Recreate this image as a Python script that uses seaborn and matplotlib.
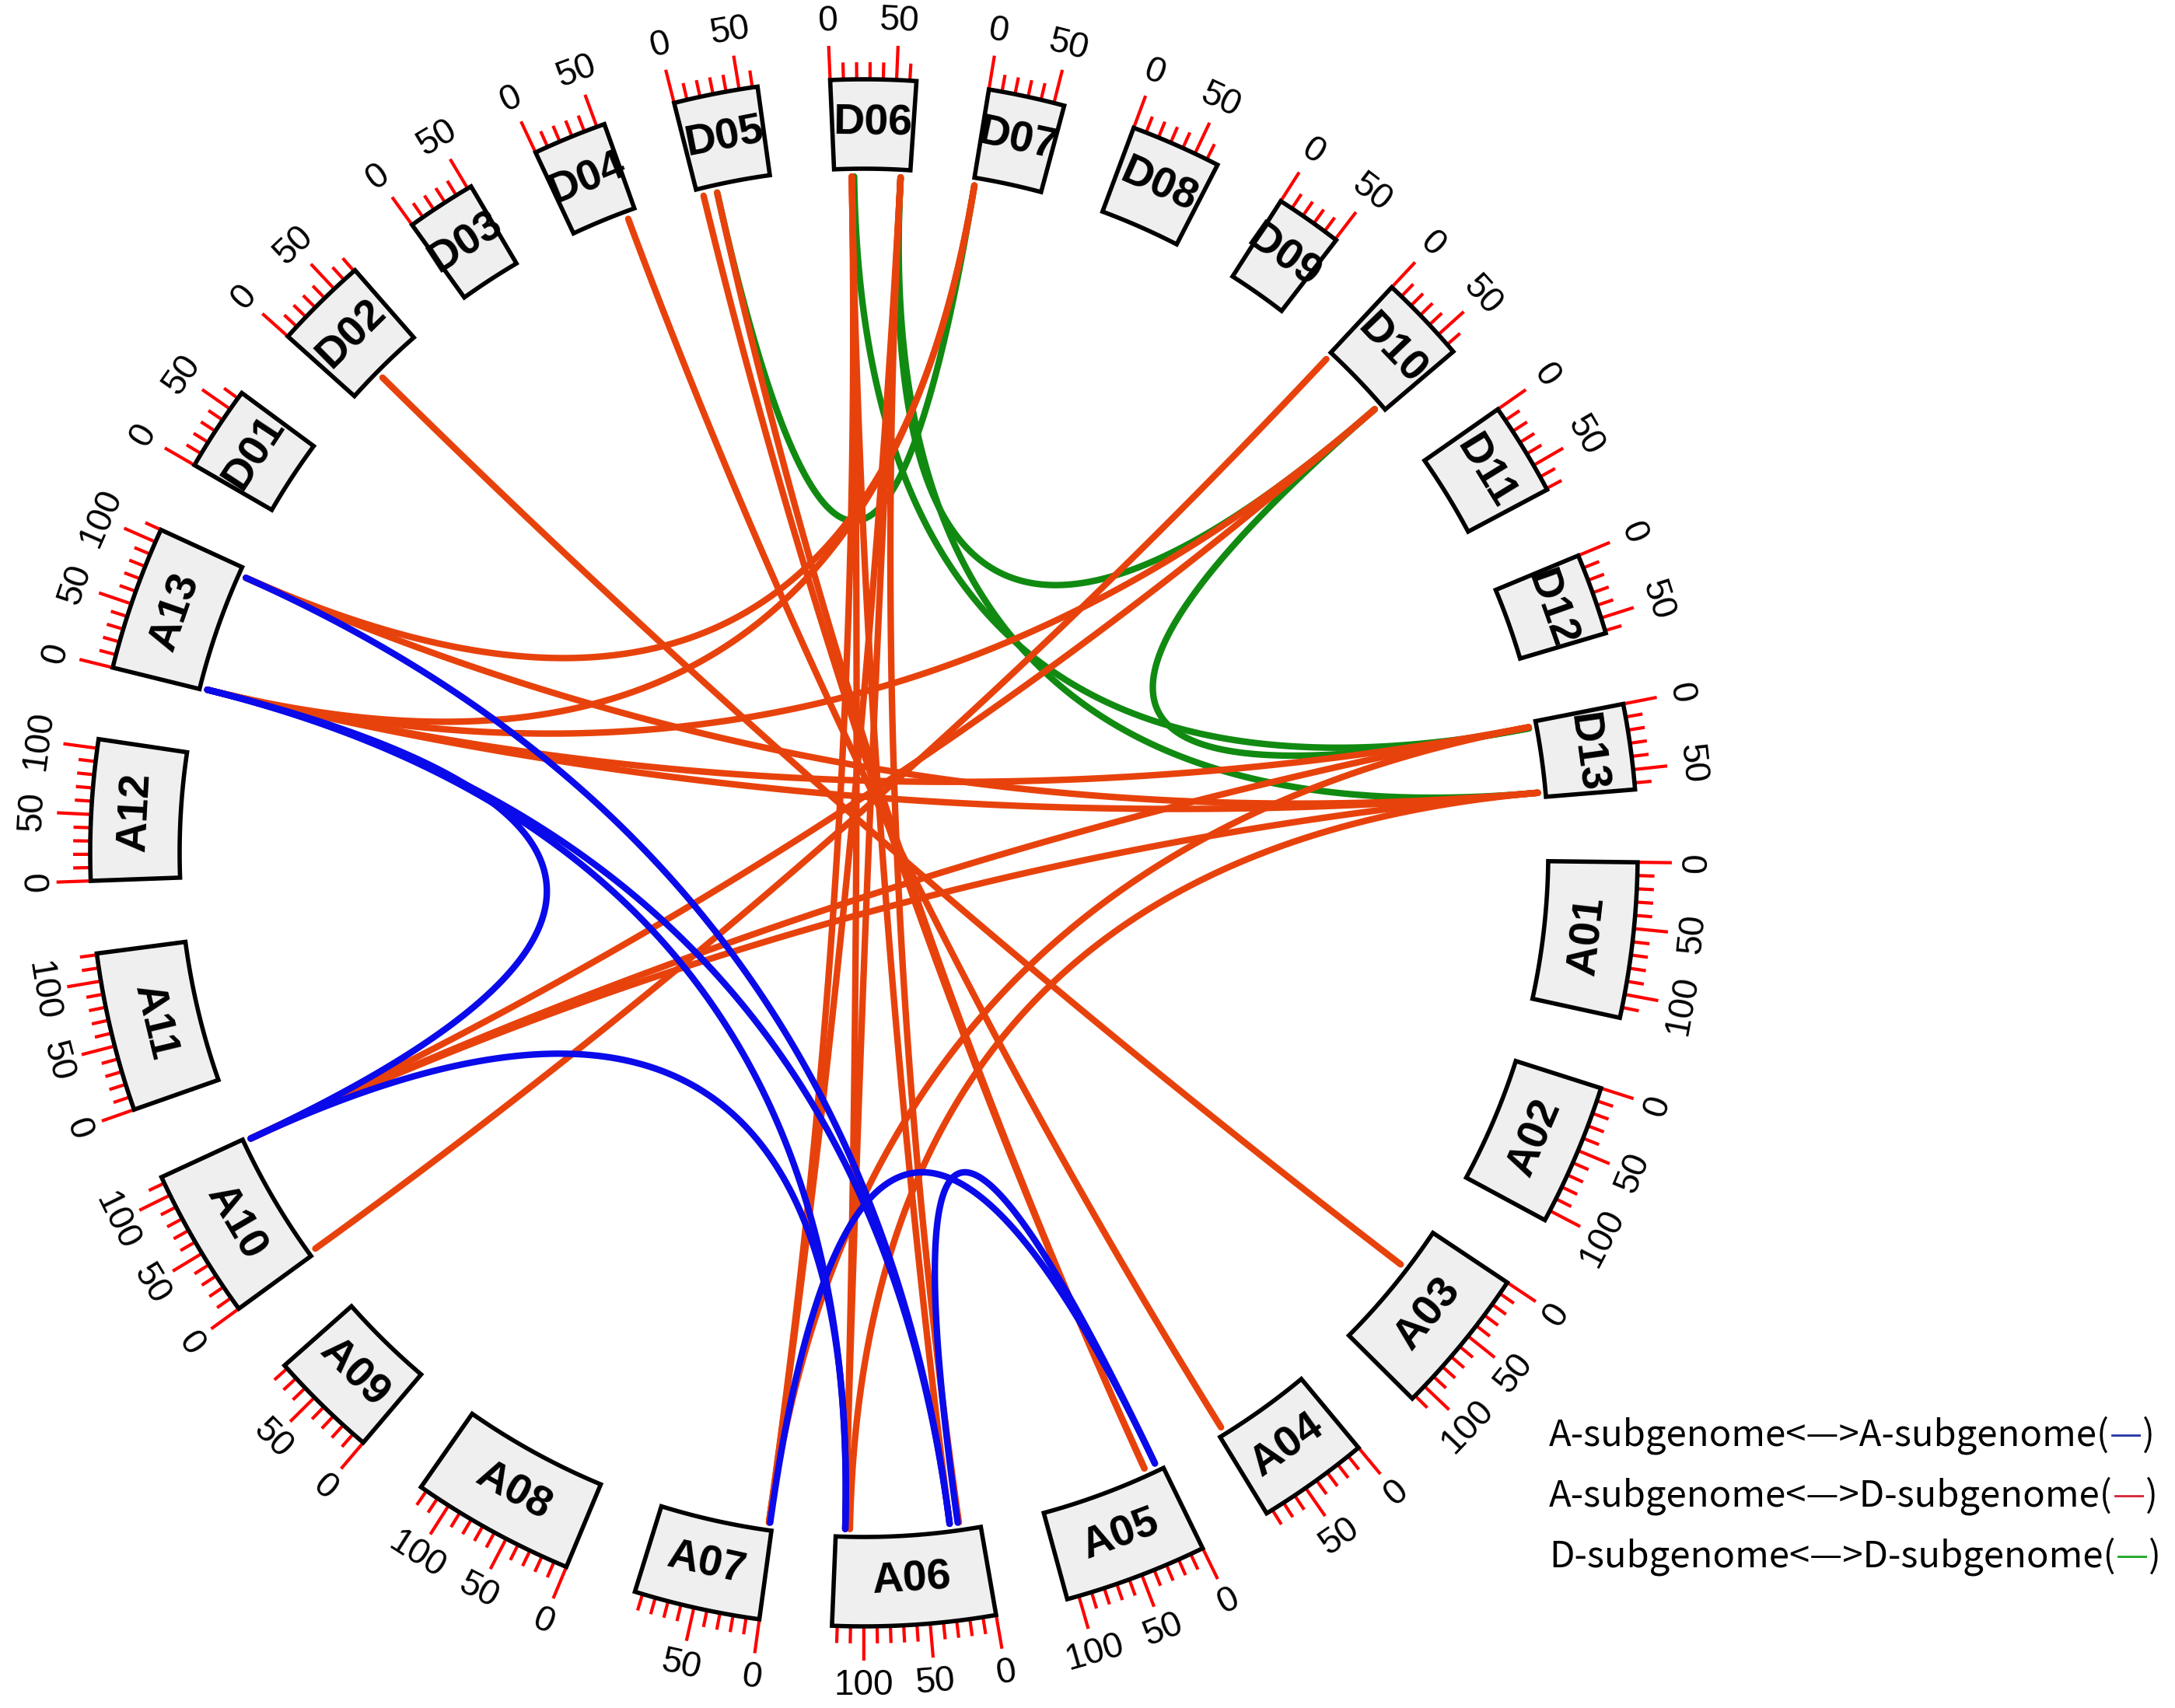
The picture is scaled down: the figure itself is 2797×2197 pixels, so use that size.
import numpy as np
import pandas as pd
import matplotlib.pyplot as plt
import seaborn as sns
from matplotlib.patches import Polygon

# chromosomes (Mb)
chrom_names = ["A01", "A02", "A03", "A04", "A05", "A06", "A07", "A08", "A09", "A10", "A11", "A12", "A13",
               "D01", "D02", "D03", "D04", "D05", "D06", "D07", "D08", "D09", "D10", "D11", "D12", "D13"]
chrom_len = [118, 108, 113, 85, 109, 124, 96, 125, 83, 115, 121, 107, 110,
             65, 71, 53, 56, 64, 65, 58, 69, 51, 67, 71, 62, 65]

# links: (chrom1, pos1, chrom2, pos2) in Mb
aa_links = [("A13", 1, "A10", 113), ("A10", 113, "A06", 116), ("A13", 1, "A06", 116),
            ("A13", 1, "A06", 26), ("A13", 103, "A06", 26), ("A07", 2, "A05", 5),
            ("A06", 19, "A05", 5)]
ad_links = [("A03", 38, "D02", 28), ("A04", 80, "D04", 48), ("A05", 15, "D05", 5),
            ("A05", 15, "D05", 17), ("A06", 116, "D06", 15), ("A06", 116, "D06", 57),
            ("A07", 3, "D06", 15), ("A07", 3, "D06", 57), ("A06", 26, "D06", 15),
            ("A06", 18, "D06", 57), ("A13", 103, "D07", 1), ("A13", 1, "D07", 1),
            ("A13", 1, "D10", 61), ("A10", 113, "D10", 61), ("A10", 3, "D10", 1),
            ("A13", 1, "D13", 4), ("A13", 1, "D13", 61), ("A13", 103, "D13", 61),
            ("A10", 113, "D13", 4), ("A10", 113, "D13", 61), ("A06", 112, "D13", 61),
            ("A07", 3, "D13", 4)]
dd_links = [("D10", 61, "D13", 5), ("D06", 17, "D13", 5), ("D06", 57, "D13", 61),
            ("D06", 57, "D10", 61), ("D05", 17, "D07", 1)]

legend_labels = ["A-subgenome<—>A-subgenome(", "A-subgenome<—>D-subgenome(",
                 "D-subgenome<—>D-subgenome("]
legend_colors = ["#2a3aa6", "#d42a3c", "#22a82a"]
link_colors = {"DD": "#118a11", "AD": "#e8420c", "AA": "#0a0aea"}

# layout (pixels, y downwards)
W, H = 2797, 2197
CX, CY = 1111, 1097
R_IN, R_OUT, R_LINK = 880, 995, 870
GAP = 5.4
START = 90.7
deg_per_mb = (360 - GAP * len(chrom_names)) / sum(chrom_len)

starts = {}
a = START
for name, L in zip(chrom_names, chrom_len):
    starts[name] = a
    a += L * deg_per_mb + GAP


def bearing(chrom, pos):
    return starts[chrom] + pos * deg_per_mb


def xy(phi, r):
    rad = np.radians(phi)
    return CX + r * np.sin(rad), CY - r * np.cos(rad)


def text_rot(phi):
    p = phi % 360
    return -p if (p < 90 or p > 270) else 180 - p


sns.set_theme(style="white")
plt.rcParams['font.family'] = ['Liberation Sans', 'DejaVu Sans']
plt.rcParams['text.color'] = 'black'

fig = plt.figure(figsize=(W / 100, H / 100), dpi=100)
ax = fig.add_axes([0, 0, 1, 1])

# chromosome boxes, ticks and labels
for name, L in zip(chrom_names, chrom_len):
    p0 = bearing(name, 0)
    p1 = bearing(name, L)
    arc = np.linspace(p0, p1, 40)
    outer = [xy(p, R_OUT) for p in arc]
    inner = [xy(p, R_IN) for p in arc[::-1]]
    ax.add_patch(Polygon(outer + inner, closed=True, facecolor="#efefef",
                         edgecolor="black", linewidth=4, zorder=3))
    mid = (p0 + p1) / 2
    tx, ty = xy(mid, (R_IN + R_OUT) / 2)
    ax.text(tx, ty, name, fontsize=40, fontweight="bold", color="black", rotation=text_rot(mid),
            rotation_mode="anchor", ha="center", va="center", zorder=4)
    for v in range(0, L + 1, 10):
        p = bearing(name, v)
        tl = 44 if v % 50 == 0 else 22
        x0, y0 = xy(p, R_OUT)
        x1, y1 = xy(p, R_OUT + tl)
        ax.plot([x0, x1], [y0, y1], color="#ff0000", lw=3, solid_capstyle="butt", zorder=2)
        if v % 50 == 0:
            lx, ly = xy(p, R_OUT + 76)
            ax.text(lx, ly, str(v), fontsize=33, color="black", rotation=text_rot(p),
                    rotation_mode="anchor", ha="center", va="center")

# links as quadratic bezier curves through the centre
rows = []
t = np.linspace(0, 1, 120)
lid = 0
for kind, links in (("DD", dd_links), ("AD", ad_links), ("AA", aa_links)):
    for c1, s1, c2, s2 in links:
        x0, y0 = xy(bearing(c1, s1), R_LINK)
        x2, y2 = xy(bearing(c2, s2), R_LINK)
        bx = (1 - t) ** 2 * x0 + 2 * t * (1 - t) * CX + t ** 2 * x2
        by = (1 - t) ** 2 * y0 + 2 * t * (1 - t) * CY + t ** 2 * y2
        rows.append(pd.DataFrame({"x": bx, "y": by, "kind": kind, "link": lid}))
        lid += 1
df = pd.concat(rows, ignore_index=True)

sns.lineplot(data=df, x="x", y="y", hue="kind", units="link", estimator=None, sort=False,
             hue_order=["DD", "AD", "AA"], palette=link_colors, linewidth=6,
             legend=False, ax=ax, solid_capstyle="round")

# legend
leg_font = ["Noto Sans CJK SC", "DejaVu Sans"]
for i, (lab, col) in enumerate(zip(legend_labels, legend_colors)):
    t1 = ax.text(1992, 1846 + i * 78, lab, fontsize=34, family=leg_font, color="black",
                 va="center", ha="left")
    t2 = ax.annotate("—", xy=(1, 0), xycoords=t1, va="bottom", ha="left",
                     fontsize=34, family=leg_font, color=col)
    ax.annotate(")", xy=(1, 0), xycoords=t2, va="bottom", ha="left", fontsize=34,
                family=leg_font, color="black")

ax.set_xlim(0, W)
ax.set_ylim(H, 0)
ax.set_aspect("equal")
ax.axis("off")
fig.savefig("out.png", dpi=100, facecolor="white")
